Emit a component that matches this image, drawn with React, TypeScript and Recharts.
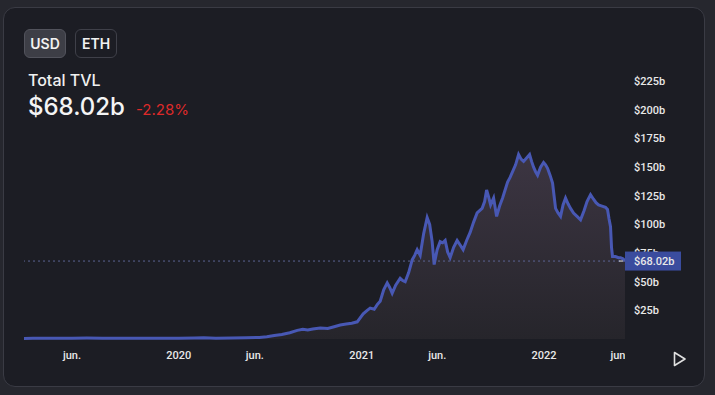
import { Area, AreaChart, ReferenceLine, XAxis, YAxis } from "recharts";

const DATES = [
  "2019-02-25", "2019-03-15", "2019-04-10", "2019-05-05", "2019-06-01", "2019-07-01",
  "2019-08-01", "2019-09-01", "2019-10-01", "2019-11-01", "2019-12-01", "2020-01-01",
  "2020-02-01", "2020-02-20", "2020-03-15", "2020-04-15", "2020-05-15", "2020-06-10",
  "2020-06-25", "2020-07-10", "2020-07-25", "2020-08-10", "2020-08-25", "2020-09-05",
  "2020-09-15", "2020-09-25", "2020-10-10", "2020-10-25", "2020-11-05", "2020-11-19",
  "2020-12-01", "2020-12-12", "2020-12-23", "2021-01-04", "2021-01-12", "2021-01-18",
  "2021-01-26", "2021-02-01", "2021-02-07", "2021-02-14", "2021-02-21", "2021-02-26",
  "2021-03-03", "2021-03-10", "2021-03-19", "2021-03-24", "2021-03-29", "2021-04-05",
  "2021-04-12", "2021-04-17", "2021-04-22", "2021-04-28", "2021-05-05", "2021-05-12",
  "2021-05-17", "2021-05-22", "2021-05-26", "2021-06-01", "2021-06-07", "2021-06-12",
  "2021-06-17", "2021-06-22", "2021-06-27", "2021-07-04", "2021-07-11", "2021-07-17",
  "2021-07-23", "2021-07-30", "2021-08-06", "2021-08-13", "2021-08-20", "2021-08-30",
  "2021-09-04", "2021-09-08", "2021-09-12", "2021-09-16", "2021-09-22", "2021-09-28",
  "2021-10-04", "2021-10-10", "2021-10-15", "2021-10-20", "2021-10-25", "2021-10-30",
  "2021-11-05", "2021-11-11", "2021-11-16", "2021-11-21", "2021-11-27", "2021-12-03",
  "2021-12-07", "2021-12-11", "2021-12-15", "2021-12-19", "2021-12-25", "2021-12-31",
  "2022-01-04", "2022-01-08", "2022-01-13", "2022-01-18", "2022-01-21", "2022-01-24",
  "2022-01-29", "2022-02-03", "2022-02-08", "2022-02-13", "2022-02-18", "2022-02-23",
  "2022-03-01", "2022-03-08", "2022-03-15", "2022-03-22", "2022-03-28", "2022-04-04",
  "2022-04-10", "2022-04-15", "2022-04-20", "2022-04-27", "2022-05-04", "2022-05-08",
  "2022-05-11", "2022-05-14", "2022-05-16", "2022-05-18", "2022-05-24", "2022-05-30",
  "2022-06-03", "2022-06-08", "2022-06-12"
];

const TVL = [
  0.5, 0.55, 0.6, 0.7, 0.75, 0.8,
  0.7, 0.65, 0.6, 0.65, 0.7, 0.7,
  0.9, 1.1, 0.6, 0.8, 1.0, 1.4,
  2.0, 3.0, 4.0, 5.5, 7.5, 8.5,
  7.8, 8.8, 9.6, 9.2, 10.5, 12.2,
  13.0, 13.8, 15.0, 22, 25, 27,
  26, 30, 33, 43, 49, 45,
  40, 47, 53, 51, 50, 58,
  69, 73, 78, 73, 92, 106,
  100, 85, 65, 78, 85, 84,
  86, 76, 71, 80, 86, 82,
  78, 86, 93, 102, 110, 114,
  120, 130, 124, 117, 123, 107,
  116, 123, 130, 137, 141, 146,
  152, 161, 157, 155, 158, 161,
  155, 150, 146, 143, 150, 154,
  152, 149, 143, 136, 125, 114,
  110, 107, 117, 123, 118, 114,
  110, 107, 104, 112, 120, 126,
  122, 119, 117, 116, 115, 113,
  105, 98, 80, 72, 72, 71,
  71, 70, 68.02
];

const X_TICKS = ["2019-06-01", "2020-01-01", "2020-06-01", "2021-01-01", "2021-06-01", "2022-01-01", "2022-06-01"];
const X_TICK_LABELS = ["jun.", "2020", "jun.", "2021", "jun.", "2022", "jun."];
const Y_TICKS = [25, 50, 75, 100, 125, 150, 175, 200, 225];
const CURRENT_TVL = 68.02;
const CHANGE_24H = "-2.28%";

const data = DATES.map((d, i) => ({ t: Date.parse(d), tvl: TVL[i] }));
const xTicks = X_TICKS.map((d) => Date.parse(d));

const PLOT_RIGHT = 625;
const LINE_COLOR = "#4858b4";
const TICK_FONT = "Roboto, 'DejaVu Sans', sans-serif";

const fmtB = (v: number) => (Number.isInteger(v) ? `$${v}b` : `$${v.toFixed(2)}b`);

function XTick({ x, y, index }: any) {
  return (
    <text
      x={x}
      y={y}
      dy={12}
      textAnchor="middle"
      clipPath="url(#plot-clip)"
      fill="#e8e8e8"
      fontSize={11}
      fontWeight={500}
      fontFamily={TICK_FONT}
    >
      {X_TICK_LABELS[index]}
    </text>
  );
}

function YTick({ y, payload }: any) {
  const v = payload.value;
  const text = (
    <text x={PLOT_RIGHT + 9} y={y} dy={4} fill="#e8e8e8" fontSize={11} fontWeight={500} fontFamily={TICK_FONT}>
      {fmtB(v)}
    </text>
  );
  if (v !== CURRENT_TVL) return text;
  return (
    <g>
      <line x1={PLOT_RIGHT - 6} x2={PLOT_RIGHT - 2} y1={y} y2={y} stroke="#e8e8e8" />
      <rect x={PLOT_RIGHT} y={y - 9.5} width={56} height={19} fill="#3a4c9e" />
      {text}
    </g>
  );
}

const btn = (active: boolean): React.CSSProperties => ({
  position: "absolute",
  top: 29,
  width: 42,
  height: 29,
  boxSizing: "border-box",
  borderRadius: 6,
  border: `1px solid ${active ? "#52535c" : "#3f4049"}`,
  background: active ? "#3d3e46" : "transparent",
  color: "#f2f2f2",
  fontFamily: "Inter, sans-serif",
  fontWeight: 600,
  fontSize: 14,
  display: "flex",
  alignItems: "center",
  justifyContent: "center"
});

export default function App() {
  return (
    <div style={{ position: "relative", width: 715, height: 395, background: "#26272e", overflow: "hidden" }}>
      <style>{"body{margin:0}"}</style>
      <div
        style={{
          position: "absolute",
          left: 3,
          top: 7,
          width: 702,
          height: 380,
          boxSizing: "border-box",
          border: "1px solid #3a3b44",
          borderRadius: 12,
          background: "#1c1d24"
        }}
      />
      <div style={{ ...btn(true), left: 24 }}>USD</div>
      <div style={{ ...btn(false), left: 75 }}>ETH</div>
      <div
        style={{
          position: "absolute",
          left: 28,
          top: 70,
          color: "#f0f0f0",
          fontFamily: "Inter, sans-serif",
          fontSize: 16,
          fontWeight: 500
        }}
      >
        Total TVL
      </div>
      <div
        style={{
          position: "absolute",
          left: 28,
          top: 92,
          display: "flex",
          alignItems: "baseline",
          fontFamily: "Inter, sans-serif"
        }}
      >
        <span style={{ color: "#f4f4f4", fontSize: 24, fontWeight: 500 }}>{fmtB(CURRENT_TVL)}</span>
        <span style={{ color: "#dd2a2a", fontSize: 15, marginLeft: 11 }}>{CHANGE_24H}</span>
      </div>

      <div style={{ position: "absolute", left: 0, top: 0 }}>
        <AreaChart width={715} height={395} data={data} margin={{ top: 64, right: 10, bottom: 26, left: 24 }}>
          <defs>
            <linearGradient id="tvl-fill" x1="0" y1="0" x2="0" y2="1">
              <stop offset="0%" stopColor="#3c3542" />
              <stop offset="100%" stopColor="#26252b" />
            </linearGradient>
            <clipPath id="plot-clip">
              <rect x={0} y={0} width={PLOT_RIGHT} height={395} />
            </clipPath>
          </defs>
          <XAxis
            dataKey="t"
            type="number"
            domain={["dataMin", "dataMax"]}
            ticks={xTicks}
            interval={0}
            tick={<XTick />}
            tickLine={false}
            axisLine={false}
            height={30}
          />
          <YAxis
            orientation="right"
            domain={[0, 240]}
            ticks={[...Y_TICKS, CURRENT_TVL]}
            interval={0}
            tick={<YTick />}
            tickLine={false}
            axisLine={false}
            width={80}
          />
          <Area
            type="linear"
            dataKey="tvl"
            stroke={LINE_COLOR}
            strokeWidth={3}
            fill="url(#tvl-fill)"
            fillOpacity={1}
            dot={false}
            activeDot={false}
            isAnimationActive={false}
          />
          <ReferenceLine y={CURRENT_TVL} stroke="#5c6594" strokeDasharray="2 3" />
        </AreaChart>
      </div>

      <svg style={{ position: "absolute", left: 673, top: 351 }} width={14} height={17}>
        <polygon points="1.5,1.5 12,8 1.5,14.5" fill="none" stroke="#e0e0e0" strokeWidth={1.6} strokeLinejoin="round" />
      </svg>
    </div>
  );
}
